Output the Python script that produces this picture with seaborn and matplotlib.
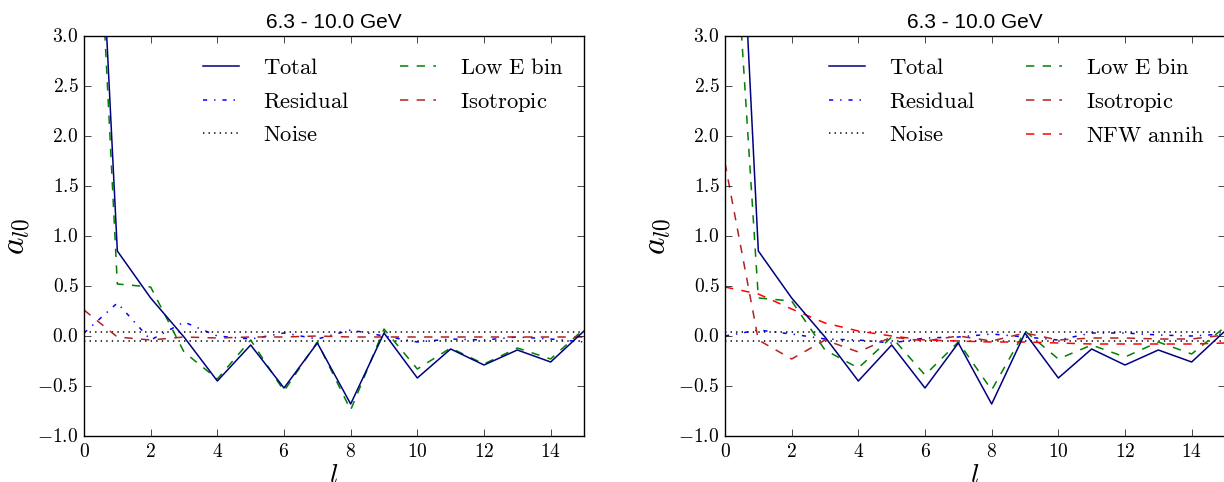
import matplotlib
matplotlib.use("Agg")
import matplotlib.pyplot as plt
import seaborn as sns
from matplotlib.ticker import FuncFormatter, MultipleLocator

# multipole index
ell = list(range(16))

# left panel (no dark matter template)
total = [7.6, 0.85, 0.38, -0.01, -0.45, -0.09, -0.52, -0.07, -0.68, 0.03, -0.42, -0.13, -0.29, -0.14, -0.26, 0.05]
residual_l = [0.03, 0.33, -0.04, 0.14, 0.0, -0.03, 0.03, -0.03, 0.06, 0.0, -0.06, -0.03, -0.04, -0.01, -0.03, -0.06]
low_e_l = [7.2, 0.52, 0.49, -0.16, -0.43, -0.04, -0.55, -0.06, -0.74, 0.07, -0.33, -0.12, -0.28, -0.12, -0.23, 0.07]
isotropic_l = [0.26, -0.01, -0.04, -0.01, -0.02, -0.01, -0.01, 0.0, -0.01, -0.01, -0.01, -0.01, -0.01, -0.01, -0.01, -0.01]

# right panel (with NFW annihilation template)
residual_r = [0.0, 0.06, 0.02, -0.03, -0.04, -0.07, -0.02, -0.01, 0.02, -0.01, -0.04, 0.03, 0.03, 0.01, 0.0, 0.02]
low_e_r = [5.6, 0.38, 0.35, -0.14, -0.32, -0.01, -0.39, -0.06, -0.54, 0.05, -0.23, -0.09, -0.21, -0.06, -0.18, 0.09]
isotropic_r = [1.73, -0.04, -0.23, -0.04, -0.16, -0.01, -0.05, 0.0, -0.05, 0.03, -0.04, -0.02, -0.02, -0.03, -0.03, 0.01]
nfw_r = [0.49, 0.42, 0.27, 0.13, 0.05, 0.0, -0.04, -0.05, -0.06, -0.06, -0.07, -0.08, -0.08, -0.08, -0.08, -0.07]

noise_level = 0.045
title = "6.3 - 10.0 GeV"

plt.style.use("classic")
plt.rcParams["figure.facecolor"] = "white"
plt.rcParams["mathtext.fontset"] = "cm"
plt.rcParams["lines.linewidth"] = 1.1

fig = plt.figure(figsize=(12.24, 4.82), dpi=100)
ax1 = fig.add_axes([84 / 1224, 46 / 482, 500 / 1224, 400 / 482])
ax2 = fig.add_axes([725 / 1224, 46 / 482, 500 / 1224, 400 / 482])


def draw_panel(ax, residual, low_e, isotropic, nfw=None):
    sns.lineplot(x=ell, y=total, ax=ax, color="#000080", linestyle="-", label=r"$\mathrm{Total}$", zorder=3)
    sns.lineplot(x=ell, y=residual, ax=ax, color="blue", linestyle="-.", label=r"$\mathrm{Residual}$")
    ax.axhline(noise_level, color="black", linestyle=":", lw=1.1, label=r"$\mathrm{Noise}$")
    ax.axhline(-noise_level, color="black", linestyle=":", lw=1.1)
    sns.lineplot(x=ell, y=low_e, ax=ax, color="green", linestyle="--", label=r"$\mathrm{Low\ E\ bin}$")
    sns.lineplot(x=ell, y=isotropic, ax=ax, color="#b22222", linestyle="--", label=r"$\mathrm{Isotropic}$")
    if nfw is not None:
        sns.lineplot(x=ell, y=nfw, ax=ax, color="red", linestyle="--", label=r"$\mathrm{NFW\ annih}$")

    ax.set_xlim(0, 15)
    ax.set_ylim(-1.0, 3.0)
    ax.xaxis.set_major_locator(MultipleLocator(2))
    ax.yaxis.set_major_locator(MultipleLocator(0.5))
    ax.xaxis.set_major_formatter(FuncFormatter(lambda v, p: r"$%d$" % v))
    ax.yaxis.set_major_formatter(FuncFormatter(lambda v, p: r"$%.1f$" % v))
    ax.tick_params(labelsize=14, direction="in", length=5, top=True, right=True)
    ax.set_xlabel(r"$l$", fontsize=20, labelpad=0)
    ax.set_ylabel(r"$a_{l0}$", fontsize=24, labelpad=4)
    ax.set_title(title, fontsize=15, family=["Liberation Sans", "DejaVu Sans"], pad=6)
    ax.legend(loc="upper right", ncol=2, frameon=False, fontsize=16.3,
              handlelength=2.2, handletextpad=0.75, columnspacing=1.95,
              labelspacing=0.45, borderaxespad=0.5, bbox_to_anchor=(1.0, 1.0))


draw_panel(ax1, residual_l, low_e_l, isotropic_l)
draw_panel(ax2, residual_r, low_e_r, isotropic_r, nfw_r)

fig.savefig("out.png", dpi=100)
